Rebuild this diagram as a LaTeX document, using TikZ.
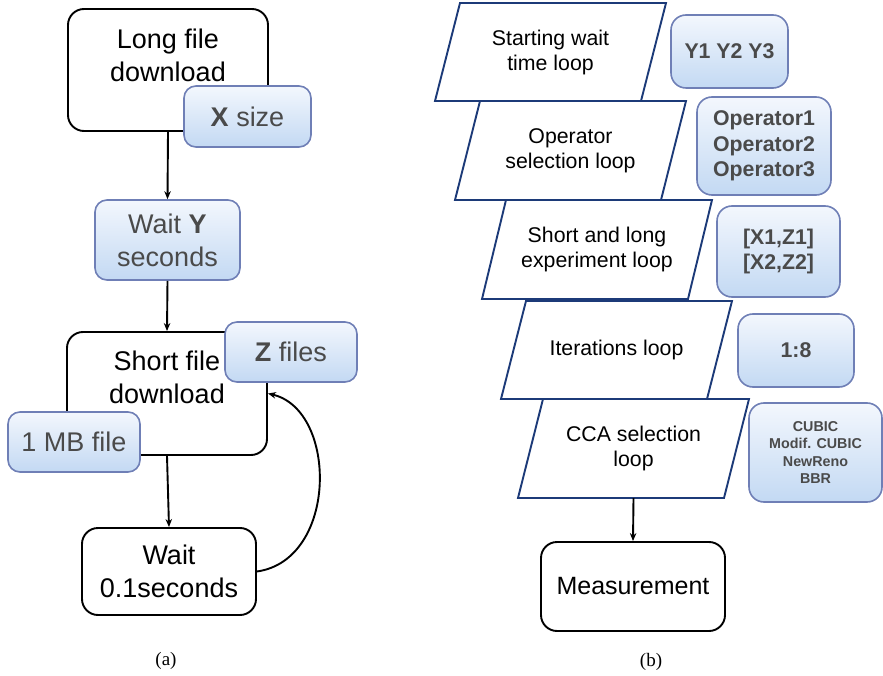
\documentclass[tikz,border=0pt]{standalone}
\usepackage{fontspec}
\setmainfont{Liberation Sans}
\newfontfamily\capfont{Liberation Serif}
\usetikzlibrary{arrows.meta}
\definecolor{bluetop}{HTML}{F3F7FD}
\definecolor{bluebot}{HTML}{C3D9F3}
\definecolor{bluedraw}{HTML}{6F7FB6}
\definecolor{graytext}{HTML}{4A4A4A}
\definecolor{navy}{HTML}{1C3A78}
\tikzset{
  blackbox/.style={draw=black, line width=1.9pt, rounded corners=16pt, fill=white, inner sep=0pt},
  bluebox/.style={draw=bluedraw, line width=1.6pt, rounded corners=12pt, top color=bluetop, bottom color=bluebot, inner sep=0pt, text=graytext, align=center},
  bigtxt/.style={font=\fontsize{27}{33}\selectfont, align=center, inner sep=0pt},
  midtxt/.style={font=\fontsize{21.3}{25}\selectfont, align=center, inner sep=0pt},
  boldmid/.style={font=\fontsize{21.3}{25.5}\selectfont\bfseries},
  para/.style={draw=navy, line width=1.9pt, fill=white, line join=miter},
  paranode/.style={midtxt, minimum height=98pt, minimum width=150pt},
  arr/.style={line width=1.9pt, -{Stealth[length=8pt,width=6.5pt]}},
  captxt/.style={font=\capfont\fontsize{19}{21}\selectfont, inner sep=0pt}
}
\begin{document}
\begin{tikzpicture}[x=1pt, y=-1pt]
\useasboundingbox (0,0) rectangle (883,676);

% ---------- panel (a) ----------
\node[blackbox, minimum width=200pt, minimum height=122pt] (long) at (168,70) {};
\node[bigtxt] (longtxt) at (168,55) {Long file\\download};
\node[bluebox, font=\fontsize{27}{33}\selectfont, minimum width=127pt, minimum height=61pt] (xsize) at (247.5,116.5) {\textbf{X} size};

\node[bluebox, font=\fontsize{27}{33}\selectfont, minimum width=145pt, minimum height=80pt] (waity) at (167.5,240) {Wait \textbf{Y}\\seconds};

\node[blackbox, minimum width=200pt, minimum height=123pt] (short) at (167,393.5) {};
\node[bigtxt] (shorttxt) at (167,377) {Short file\\download};
\node[bluebox, font=\fontsize{27}{33}\selectfont, minimum width=132pt, minimum height=60pt] (zfiles) at (291,352) {\textbf{Z} files};
\node[bluebox, font=\fontsize{27}{33}\selectfont, minimum width=132pt, minimum height=60pt] (onemb) at (74,442) {1 MB file};

\node[blackbox, minimum width=174pt, minimum height=87pt, bigtxt, rounded corners=16pt, draw, fill=white] (wait2) at (169,571.5) {Wait\\0.1seconds};

\draw[arr] (long.south) -- (waity.north);
\draw[arr] (waity.south) -- (short.north);
\draw[arr] (short.south) -- (wait2.north);
\draw[arr] (wait2.east) .. controls (338,560) and (338,410) .. (short.east);

\node[captxt] (capa) at (166,661) {(a)};

% ---------- panel (b) ----------
\draw[para] (460,3) -- (666,3) -- (641,101) -- (435,101) -- cycle;
\node[paranode] (p1) at (550.5,52) {Starting wait\\time loop};
\draw[para] (480,101) -- (686,101) -- (661,200) -- (455,200) -- cycle;
\node[paranode] (p2) at (570.5,150.5) {Operator\\selection loop};
\draw[para] (506,200) -- (712,200) -- (688,299) -- (482,299) -- cycle;
\node[paranode] (p3) at (597,249.5) {Short and long\\experiment loop};
\draw[para] (526,301) -- (732,301) -- (707,399) -- (501,399) -- cycle;
\node[paranode] (p4) at (616.5,350) {Iterations loop};
\draw[para] (543,399) -- (749,399) -- (724,498) -- (518,498) -- cycle;
\node[paranode, minimum height=99pt] (p5) at (633.5,448.5) {CCA selection\\loop};

\node[blackbox, minimum width=184pt, minimum height=89pt, font=\fontsize{25}{30}\selectfont] (meas) at (633,586.5) {Measurement};
\draw[arr] (p5.south) -- (meas.north);

\node[bluebox, boldmid, rounded corners=15pt, minimum width=117pt, minimum height=73pt] (b1) at (729.5,51.5) {Y1 Y2 Y3};
\node[bluebox, boldmid, rounded corners=15pt, minimum width=134pt, minimum height=98pt] (b2) at (764,146) {Operator1\\Operator2\\Operator3};
\node[bluebox, boldmid, rounded corners=15pt, minimum width=123pt, minimum height=91pt] (b3) at (778.5,251.5) {{[X1,Z1]}\\{}{[X2,Z2]}};
\node[bluebox, boldmid, rounded corners=15pt, minimum width=116pt, minimum height=73pt] (b4) at (796,350.5) {1:8};
\node[bluebox, rounded corners=15pt, font=\fontsize{14.3}{17.5}\selectfont\bfseries, minimum width=133pt, minimum height=99pt] (b5) at (815.5,452.5) {CUBIC\\Modif. CUBIC\\NewReno\\BBR};

\node[captxt] (capb) at (651,662) {(b)};
\end{tikzpicture}
\end{document}
